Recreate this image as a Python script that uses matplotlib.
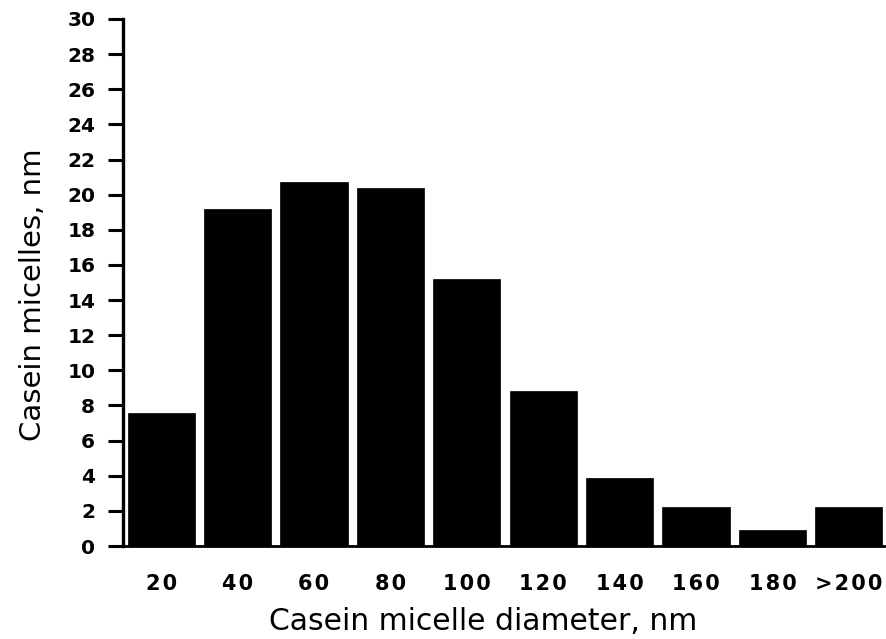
import numpy as np
import matplotlib
matplotlib.use("Agg")
import matplotlib.pyplot as plt

# diameter classes (nm) and share of casein micelles in each
diameters = ["20", "40", "60", "80", "100", "120", "140", "160", "180", ">200"]
counts = [7.6, 19.2, 20.7, 20.4, 15.2, 8.8, 3.9, 2.2, 0.9, 2.2]
y_ticks = list(range(0, 31, 2))

plt.rcParams["font.family"] = ["DejaVu Sans"]

fig = plt.figure(figsize=(8.87, 6.39), dpi=100)
ax = fig.add_axes([0.1387, 0.1455, 0.8613, 0.8248])

x = np.arange(len(diameters))
ax.bar(x, counts, width=0.88, color="black", edgecolor="black", linewidth=0.5)

ax.set_xlim(-0.5, len(diameters) - 0.5)
ax.set_ylim(0, 30)

# slightly spaced-out category labels
spaced = ["\u200a".join(d) for d in diameters]
ax.set_xticks(x)
ax.set_xticklabels(spaced, fontsize=15, fontweight="bold")
ax.tick_params(axis="x", length=0, pad=20)

ax.set_yticks(y_ticks)
ax.set_yticklabels([str(t) for t in y_ticks], fontsize=14.5, fontweight="bold")
ax.tick_params(axis="y", direction="out", length=11, width=2.2, pad=9)

for side in ("top", "right"):
    ax.spines[side].set_visible(False)
ax.spines["left"].set_linewidth(2.4)
ax.spines["bottom"].set_linewidth(2.0)

ax.set_xlabel("Casein micelle diameter, nm", fontsize=21.5)
ax.set_ylabel("Casein micelles, nm", fontsize=21)
ax.xaxis.set_label_coords(0.471, -0.116)
ax.yaxis.set_label_coords(-0.100, 0.476)

fig.savefig("out.png", dpi=100)
